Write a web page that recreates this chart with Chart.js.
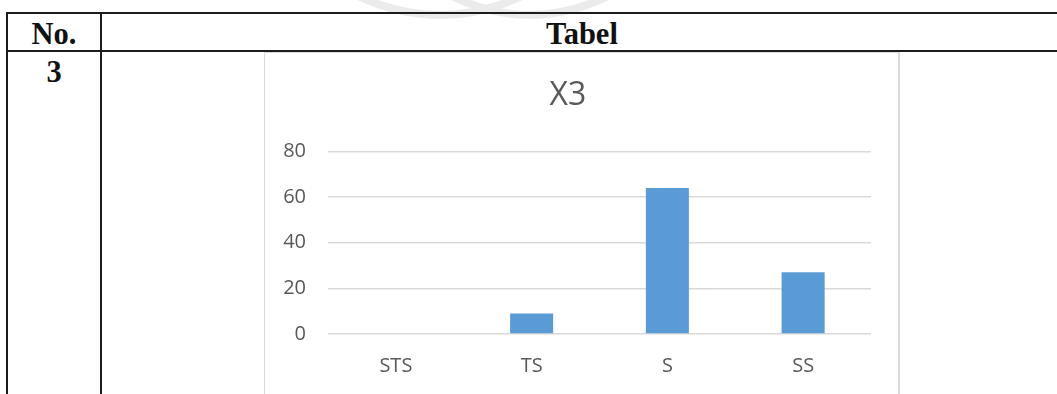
<!DOCTYPE html>
<html>
<head>
<meta charset="utf-8">
<script src="https://cdn.jsdelivr.net/npm/chart.js@4/dist/chart.umd.min.js"></script>
<style>
  html, body { margin: 0; padding: 0; background: #fff; }
  body { width: 1057px; height: 394px; position: relative; overflow: hidden; }
  .rule { position: absolute; background: #1c1c1c; }
  .cell-text {
    position: absolute;
    font-family: "Liberation Serif", "Times New Roman", serif;
    font-weight: bold;
    font-size: 30.5px;
    line-height: 30.5px;
    color: #111;
    text-align: center;
    white-space: nowrap;
  }
  #frame {
    position: absolute;
    left: 264px; top: 52px;
    width: 636px; height: 360px;
    border-left: 1px solid #d9d9d9;
    border-right: 2px solid #d9d9d9;
    border-top: 1px solid #d9d9d9;
    box-sizing: border-box;
  }
  #wrap { position: absolute; left: 265px; top: 53px; width: 634px; height: 341px; }
  #mark { position: absolute; left: 0; top: 0; }
</style>
</head>
<body>
<!-- faint logo behind the table header -->
<svg id="mark" width="1057" height="30">
  <path d="M358 -4 Q 440 34 522 -4" fill="none" stroke="#ebebeb" stroke-width="8"/>
  <path d="M452 -4 Q 530 34 608 -4" fill="none" stroke="#ebebeb" stroke-width="8"/>
</svg>

<!-- table grid -->
<div class="rule" style="left:7px; top:12px; width:1050px; height:2px;"></div>
<div class="rule" style="left:7px; top:50px; width:1050px; height:2px;"></div>
<div class="rule" style="left:6px; top:12px; width:2px; height:382px;"></div>
<div class="rule" style="left:100px; top:12px; width:2px; height:382px;"></div>

<div class="cell-text" style="left:8px; width:92px; top:18.5px;">No.</div>
<div class="cell-text" style="left:432px; width:300px; top:18.5px;">Tabel</div>
<div class="cell-text" style="left:8px; width:92px; top:56.5px;">3</div>

<div id="frame"></div>
<div id="wrap"><canvas id="chart"></canvas></div>

<script>
// Response categories and counts for item X3
const categories = ["STS", "TS", "S", "SS"];
const counts = [0, 9, 64, 27];
const yTicks = [0, 20, 40, 60, 80];
const chartTitle = "X3";

const labelColor = "#595959";
const gridColor = "#d9d9d9";

new Chart(document.getElementById("chart"), {
  type: "bar",
  data: {
    labels: categories,
    datasets: [{
      data: counts,
      backgroundColor: "#5b9bd5",
      borderWidth: 0,
      categoryPercentage: 1,
      barPercentage: 0.317
    }]
  },
  options: {
    responsive: true,
    maintainAspectRatio: false,
    animation: false,
    devicePixelRatio: 1,
    layout: { padding: { left: 0, right: 28, top: 0, bottom: 0 } },
    plugins: {
      legend: { display: false },
      tooltip: { enabled: false },
      title: {
        display: true,
        text: chartTitle,
        color: labelColor,
        font: { family: "'Open Sans', 'Noto Sans', sans-serif", size: 32, weight: "normal" },
        padding: { top: 24, bottom: 36 }
      }
    },
    scales: {
      x: {
        grid: { display: false, drawTicks: false },
        border: { display: false },
        ticks: {
          color: labelColor,
          padding: 20,
          font: { family: "'Open Sans', 'Noto Sans', sans-serif", size: 20 }
        },
        afterFit: (s) => { s.height = 60; }
      },
      y: {
        min: 0,
        max: yTicks[yTicks.length - 1],
        afterBuildTicks: (s) => { s.ticks = yTicks.map(v => ({ value: v })); },
        grid: { color: gridColor, lineWidth: 1.5, drawTicks: false },
        border: { display: false },
        ticks: {
          color: labelColor,
          padding: 22,
          font: { family: "'Open Sans', 'Noto Sans', sans-serif", size: 20 }
        },
        afterFit: (s) => { s.width = 63; }
      }
    }
  }
});
</script>
</body>
</html>
